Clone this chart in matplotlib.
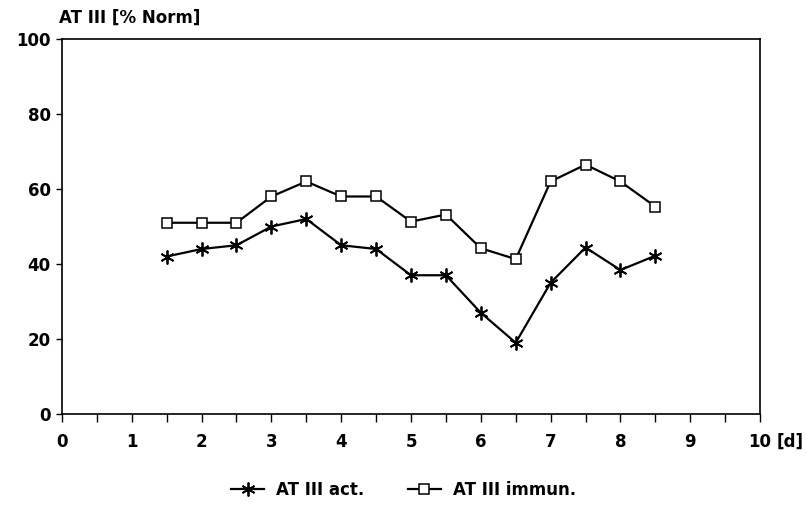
import matplotlib.pyplot as plt
import numpy as np

plt.rcParams['font.family'] = ['DejaVu Sans']
plt.rcParams['font.weight'] = 'bold'

# data
days = [1.5, 2, 2.5, 3, 3.5, 4, 4.5, 5, 5.5, 6, 6.5, 7, 7.5, 8, 8.5]
at3_act = [42, 44, 45, 50, 52, 45, 44, 37, 37, 27, 19, 35, 44.4, 38.4, 42.2]
at3_immun = [51, 51, 51, 58, 62, 58, 58, 51.3, 53.2, 44.2, 41.3, 62, 66.5, 62, 55.3]
x_labels = ['0', '1', '2', '3', '4', '5', '6', '7', '8', '9', '10']
y_ticks = [0, 20, 40, 60, 80, 100]

fig = plt.figure(figsize=(8.07, 5.11), dpi=100)
ax = fig.add_axes([0.0768, 0.1898, 0.8650, 0.7339])

ax.plot(days, at3_act, color='black', lw=1.6, marker=(6, 2, 0),
        markersize=10, markeredgewidth=1.3, label='AT III act.')
ax.plot(days, at3_immun, color='black', lw=1.6, marker='s',
        markersize=7.5, markerfacecolor='white', markeredgewidth=1.1,
        label='AT III immun.')

ax.set_xlim(0, 10)
ax.set_ylim(0, 100)
ax.set_xticks(np.arange(0, 11))
ax.set_xticklabels(x_labels)
ax.set_xticks(np.arange(0.5, 10, 1), minor=True)
ax.set_yticks(y_ticks)
ax.tick_params(axis='x', which='both', direction='out', length=6, width=1,
               labelsize=12, pad=8)
ax.tick_params(axis='y', direction='out', length=4, width=1, labelsize=12, pad=4)
for s in ax.spines.values():
    s.set_linewidth(1.2)

ax.text(10.24, -0.073, '[d]', transform=ax.get_xaxis_transform(),
        fontsize=12, fontweight='bold', ha='left', va='center')
fig.text(0.073, 0.948, 'AT III [% Norm]', fontsize=12, fontweight='bold',
         ha='left', va='bottom')

fig.legend(loc='center', bbox_to_anchor=(0.50, 0.042), ncol=2, frameon=False,
           fontsize=12, handlelength=2.0, handletextpad=0.7, columnspacing=2.6)

fig.savefig('out.png', dpi=100)
